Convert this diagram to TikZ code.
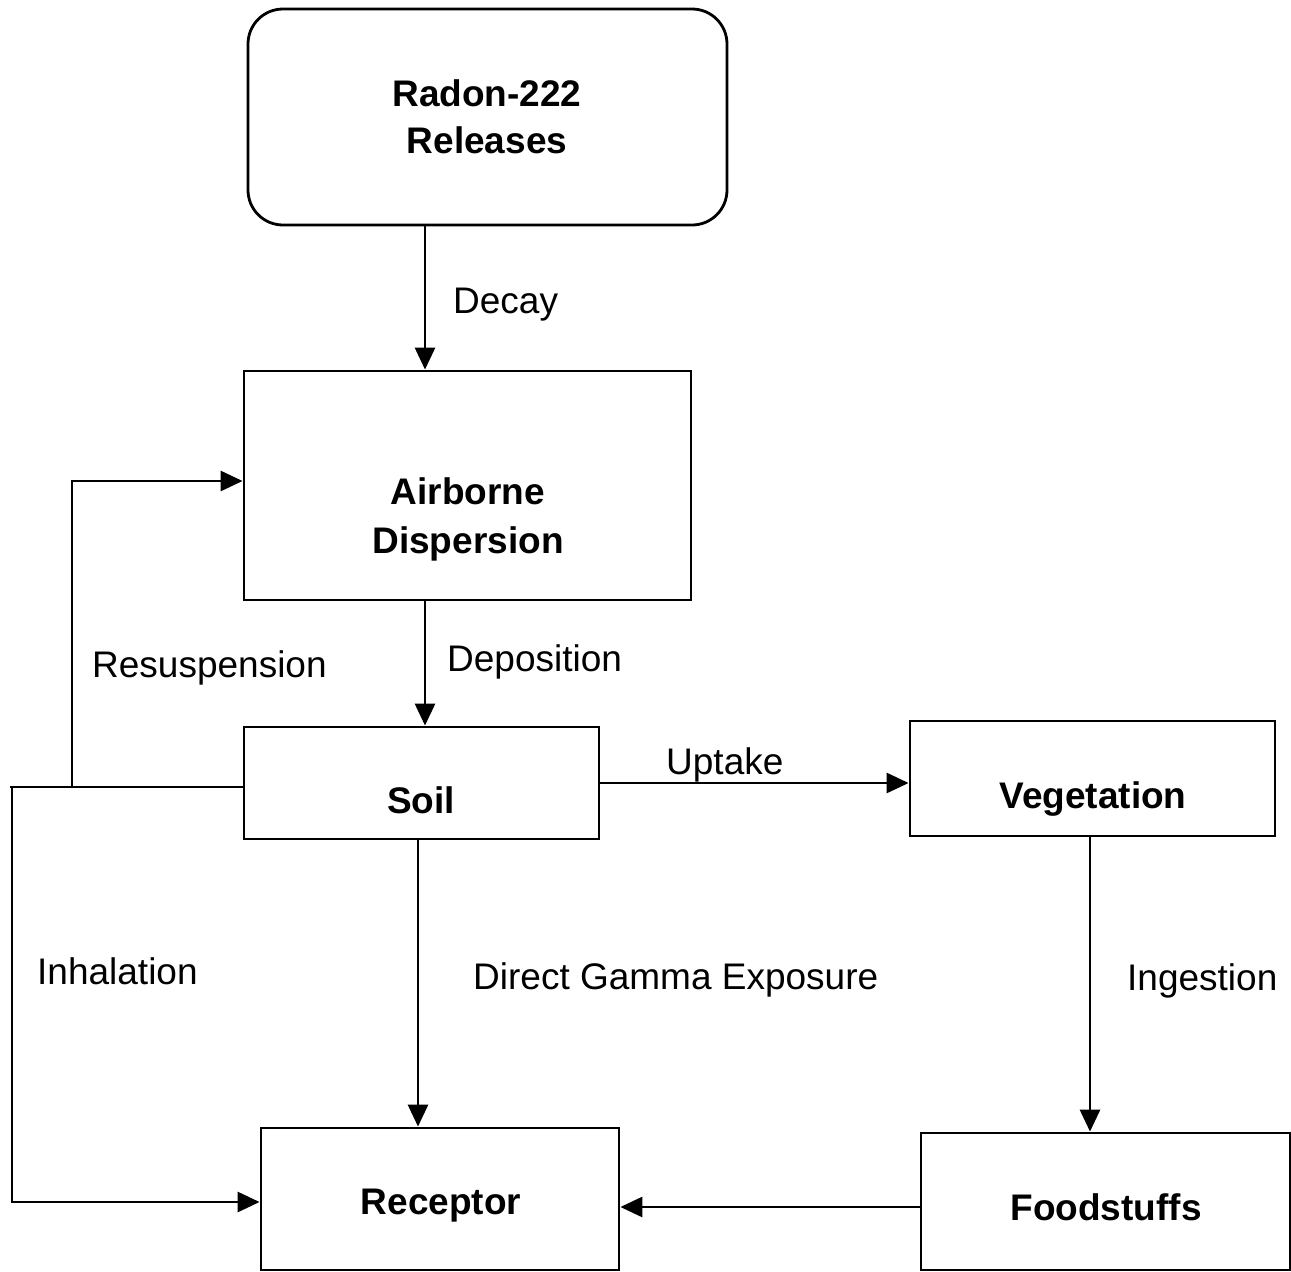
\documentclass[tikz,border=0pt]{standalone}
\usepackage{fontspec}
\setmainfont{Liberation Sans}
\usetikzlibrary{arrows.meta}
\begin{document}
\begin{tikzpicture}[x=1pt,y=-1pt,
  box/.style={draw,line width=2.8pt,inner sep=0pt,anchor=center},
  lbl/.style={inner sep=0pt,anchor=base west,font=\fontsize{37}{44}\selectfont},
  btxt/.style={inner sep=0pt,anchor=base,font=\fontsize{37}{44}\selectfont\bfseries},
  line/.style={line width=2.8pt},
  arr/.style={line width=2.8pt,-{Triangle[length=22pt,width=20pt]}}]
\useasboundingbox (0,0) rectangle (1291,1272);
\fill[white] (0,0) rectangle (1291,1272);
% boxes
\node[box,rounded corners=35pt,minimum width=479pt,minimum height=216pt] (radon) at (487.5,117) {};
\node[box,minimum width=447pt,minimum height=229pt] (air) at (467.5,485.5) {};
\node[box,minimum width=355pt,minimum height=112pt] (soil) at (421.5,783) {};
\node[box,minimum width=365pt,minimum height=115pt] (veg) at (1092.5,778.5) {};
\node[box,minimum width=358pt,minimum height=142pt] (rec) at (440,1199) {};
\node[box,minimum width=369pt,minimum height=137pt] (food) at (1105.5,1201.5) {};
% box texts
\node[btxt] (radonA) at (487,106) {Radon-222};
\node[btxt] (radonB) at (487,153) {Releases};
\node[btxt] (airA) at (468,504) {Airborne};
\node[btxt] (airB) at (468,553) {Dispersion};
\node[btxt] (soilT) at (421,813) {Soil};
\node[btxt] (vegT) at (1093,808) {Vegetation};
\node[btxt] (recT) at (441,1214) {Receptor};
\node[btxt] (foodT) at (1106,1220) {Foodstuffs};
% helper coordinates
\coordinate (xdecay) at (425,0);
\coordinate (xgamma) at (418,0);
\coordinate (xing) at (1090,0);
\coordinate (yres) at (0,481);
\coordinate (yinh) at (0,787);
\coordinate (yfood) at (0,1207);
\coordinate (inhTop) at (10,787);
\coordinate (inhCorner) at (12,1202);
\coordinate (inhStart) at (12,787);
\coordinate (resBot) at (72,787);
\coordinate (resTop) at (72,481);
% connectors
\draw[arr] (radon.south -| xdecay) -- (air.north -| xdecay);
\draw[arr] (air.south -| xdecay) -- (soil.north -| xdecay);
\draw[arr] (soil.south -| xgamma) -- (rec.north -| xgamma);
\draw[arr] (soil.east) -- (veg.west |- soil.east);
\draw[arr] (veg.south -| xing) -- (food.north -| xing);
\draw[arr] (food.west |- yfood) -- (rec.east |- yfood);
\draw[line] (soil.west |- yinh) -- (inhTop);
\draw[arr] (resBot) -- (resTop) -- (air.west |- yres);
\draw[arr] (inhStart) -- (inhCorner) -- (rec.west |- inhCorner);
% labels
\node[lbl] (lDecay) at (453,313) {Decay};
\node[lbl] (lDep) at (447,671) {Deposition};
\node[lbl] (lRes) at (92,677) {Resuspension};
\node[lbl] (lUp) at (666,774) {Uptake};
\node[lbl] (lInh) at (37,984) {Inhalation};
\node[lbl] (lGam) at (473,989) {Direct Gamma Exposure};
\node[lbl] (lIng) at (1127,990) {Ingestion};
\end{tikzpicture}
\end{document}
